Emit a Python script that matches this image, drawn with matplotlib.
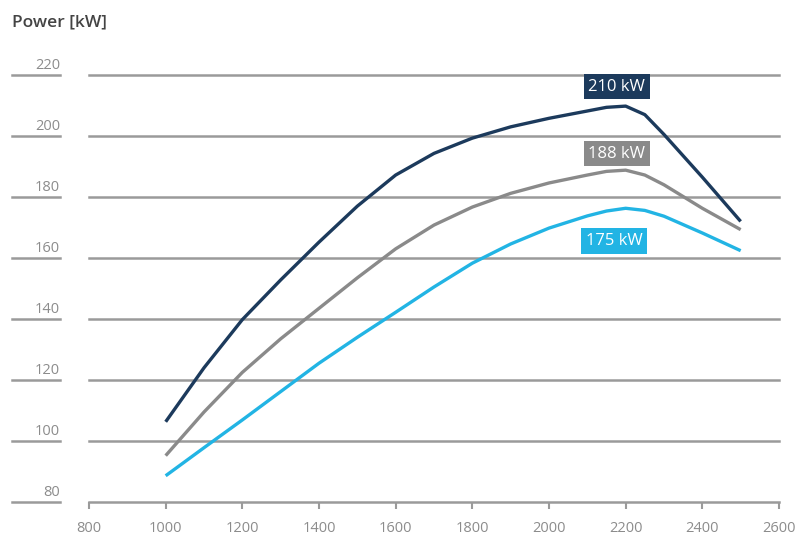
import matplotlib.pyplot as plt
from matplotlib import transforms

plt.rcParams['font.family'] = ['Open Sans', 'DejaVu Sans']

# engine speed [rpm]
rpm = [1000, 1100, 1200, 1300, 1400, 1500, 1600, 1700, 1800, 1900,
       2000, 2100, 2150, 2200, 2250, 2300, 2400, 2500]

# power curves [kW]
p210 = [106.3, 124, 139.8, 152.8, 165.2, 177, 187.2, 194.3, 199.3, 203,
        205.8, 208.2, 209.4, 209.8, 207, 200.5, 186.5, 172]
p188 = [95.2, 109.5, 122.5, 133.5, 143.5, 153.5, 163, 170.8, 176.7, 181.2,
        184.6, 187.2, 188.4, 188.8, 187.2, 184, 176.3, 169.3]
p175 = [88.6, 97.8, 106.9, 116.2, 125.5, 134, 142.2, 150.5, 158.3, 164.6,
        169.8, 173.8, 175.4, 176.3, 175.6, 173.7, 168.2, 162.4]

labels = ['210 kW', '188 kW', '175 kW']
label_pos = [(2177, 216.2), (2177, 194.2), (2170, 165.6)]
colors = ['#1c3a5c', '#8a8a8a', '#22b4e4']

yticks = [80, 100, 120, 140, 160, 180, 200, 220]
xticks = [800, 1000, 1200, 1400, 1600, 1800, 2000, 2200, 2400, 2600]

fig = plt.figure(figsize=(8.03, 5.40), dpi=100)
ax = fig.add_axes([89 / 803, 38 / 540, 690 / 803, 427 / 540])
ax.set_xlim(800, 2600)
ax.set_ylim(80, 220)

grid_col = '#9a9a9a'
txt_col = '#8c8c8c'

# horizontal grid lines
for y in yticks[1:]:
    ax.axhline(y, color=grid_col, lw=1.8, zorder=1, clip_on=False)

# short lines + labels on the left
trans = transforms.blended_transform_factory(fig.transFigure, ax.transData)
for y in yticks:
    ax.plot([12 / 803, 60 / 803], [y, y], transform=trans, color=grid_col,
            lw=1.8, clip_on=False)
    ax.text(60 / 803, y + 0.6, str(y), transform=trans, ha='right',
            va='bottom', fontsize=10.5, color=txt_col)

for vals, c in zip([p210, p188, p175], colors):
    ax.plot(rpm, vals, color=c, lw=2.4, zorder=3, solid_joinstyle='round',
            solid_capstyle='butt')

for lab, (x, y), c in zip(labels, label_pos, colors):
    ax.text(x, y, lab, ha='center', va='center', fontsize=12, color='white',
            zorder=4,
            bbox=dict(boxstyle='square,pad=0.28', fc=c, ec='none'))

for s in ['top', 'right', 'left']:
    ax.spines[s].set_visible(False)
ax.spines['bottom'].set_color(grid_col)
ax.spines['bottom'].set_linewidth(1.8)
ax.set_yticks([])
ax.set_xticks(xticks)
ax.set_xticklabels([str(x) for x in xticks])
ax.tick_params(axis='x', colors=grid_col, length=5, width=1.5,
               labelcolor=txt_col, labelsize=10.5, pad=9)

fig.text(12 / 803, 1 - 22 / 540, 'Power [kW]', ha='left', va='center',
         fontsize=12.5, color='#444444', fontweight='semibold')

fig.savefig('out.png', dpi=100, facecolor='white')
